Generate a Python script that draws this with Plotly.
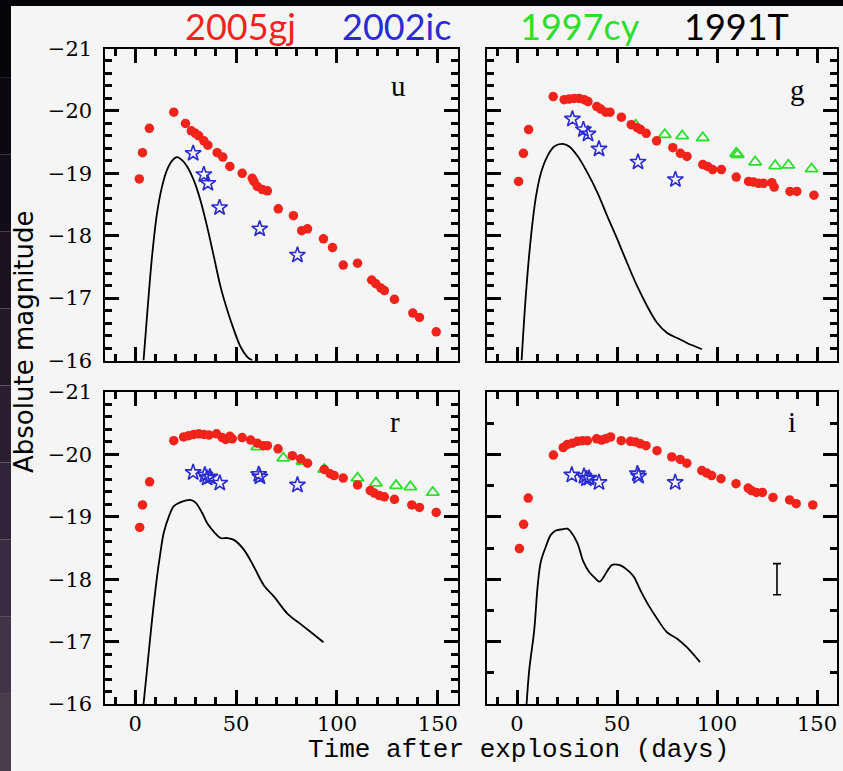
import plotly.graph_objects as go

W, H = 843, 771

# ---------------- data (days after explosion, absolute magnitude) ----------------
# u band
u_05gj_t = [2.0, 3.6, 7.0, 19.1, 24.9, 27.8, 29.8, 31.5, 34.0, 36.0, 40.6, 43.4, 46.9, 53.0, 58.0, 58.8,
            60.5, 63.0, 65.5, 70.9, 78.4, 82.5, 85.4, 93.3, 97.8, 103.1, 110.2, 117.2, 119.3, 121.8,
            123.5, 128.5, 137.6, 140.9, 149.2]
u_05gj_m = [-18.91, -19.33, -19.72, -19.98, -19.80, -19.68, -19.64, -19.60, -19.52, -19.45, -19.33, -19.26,
            -19.11, -19.00, -18.92, -18.87, -18.79, -18.74, -18.72, -18.43, -18.32, -18.08, -18.11, -17.95,
            -17.81, -17.53, -17.56, -17.29, -17.23, -17.16, -17.12, -16.98, -16.76, -16.69, -16.46]
u_02ic_t = [28.7, 34.0, 36.0, 41.8, 61.7, 80.4]
u_02ic_m = [-19.32, -18.98, -18.84, -18.45, -18.11, -17.69]
u_91T_t = [4.1, 5.8, 8.3, 10.8, 13.3, 15.7, 18.2, 20.7, 23.2, 25.7, 29.0, 32.3, 35.6, 39.0, 42.3, 45.6,
           48.9, 52.2, 55.5, 58.0]
u_91T_m = [-16.0, -16.70, -17.66, -18.36, -18.79, -19.05, -19.20, -19.26, -19.21, -19.11, -18.89, -18.57,
           -18.15, -17.66, -17.18, -16.81, -16.49, -16.22, -16.06, -16.0]

# g band
g_05gj_t = [0.8, 3.2, 5.8, 18.1, 23.6, 26.1, 28.6, 31.1, 33.6, 35.5, 39.9, 41.9, 44.4, 46.5, 52.2, 57.1,
            60.1, 61.8, 64.6, 69.8, 77.9, 81.7, 85.0, 92.9, 95.3, 97.8, 102.2, 109.6, 115.8, 118.3, 120.8,
            123.3, 127.4, 128.6, 136.5, 139.9, 148.5]
g_05gj_m = [-18.87, -19.32, -19.70, -20.23, -20.18, -20.19, -20.20, -20.20, -20.18, -20.15, -20.07, -20.03,
            -19.98, -19.98, -19.90, -19.78, -19.73, -19.70, -19.64, -19.52, -19.41, -19.32, -19.27, -19.14,
            -19.11, -19.06, -19.06, -18.94, -18.87, -18.86, -18.84, -18.84, -18.85, -18.78, -18.71, -18.71,
            -18.65]
g_02ic_t = [27.7, 33.2, 35.5, 41.0, 60.5, 79.2]
g_02ic_m = [-19.87, -19.70, -19.63, -19.39, -19.18, -18.90]
g_97cy_t = [59.3, 73.9, 82.6, 92.9, 109.6, 110.3, 119.1, 129.1, 135.7, 147.3]
g_97cy_m = [-19.77, -19.62, -19.60, -19.57, -19.32, -19.30, -19.18, -19.12, -19.13, -19.07]
g_91T_t = [2.3, 4.5, 7.0, 9.5, 12.0, 15.3, 18.6, 22.8, 26.1, 30.2, 35.2, 40.2, 45.2, 50.2, 55.1, 60.1,
           65.1, 70.1, 75.1, 80.1, 85.0, 92.5]
g_91T_m = [-16.0, -17.08, -17.99, -18.63, -19.01, -19.28, -19.43, -19.47, -19.43, -19.28, -19.01, -18.69,
           -18.31, -17.94, -17.56, -17.19, -16.87, -16.60, -16.44, -16.36, -16.28, -16.18]

# r band
r_05gj_t = [2.2, 3.6, 7.1, 19.1, 24.0, 26.5, 29.0, 31.5, 34.0, 36.5, 40.3, 43.1, 44.8, 46.9, 48.1, 53.0,
            57.2, 60.5, 63.5, 65.5, 70.8, 77.9, 82.0, 85.4, 93.7, 96.6, 98.6, 103.1, 110.2, 116.5, 118.5,
            121.0, 123.5, 128.5, 137.1, 140.9, 149.2]
r_05gj_m = [-18.83, -19.19, -19.56, -20.22, -20.28, -20.30, -20.32, -20.33, -20.32, -20.31, -20.33, -20.27,
            -20.24, -20.29, -20.25, -20.27, -20.23, -20.18, -20.14, -20.14, -20.09, -19.98, -19.93, -19.86,
            -19.76, -19.69, -19.66, -19.62, -19.51, -19.42, -19.38, -19.34, -19.32, -19.28, -19.19, -19.15,
            -19.07]
r_02ic_t = [28.7, 34.5, 35.6, 37.0, 41.9, 61.2, 61.8, 80.4]
r_02ic_m = [-19.71, -19.67, -19.62, -19.64, -19.54, -19.68, -19.64, -19.51]
r_97cy_t = [60.5, 73.4, 82.9, 93.7, 110.2, 119.3, 129.3, 136.4, 147.5]
r_97cy_m = [-20.12, -19.94, -19.89, -19.76, -19.62, -19.54, -19.50, -19.48, -19.39]
r_91T_t = [4.1, 5.8, 8.3, 10.8, 12.4, 14.1, 16.6, 19.1, 21.5, 24.9, 27.3, 29.8, 33.2, 35.6, 39.0, 42.3,
           45.6, 48.9, 53.9, 58.8, 63.8, 68.8, 75.4, 82.0, 87.9, 93.3]
r_91T_m = [-16.0, -16.54, -17.34, -18.04, -18.41, -18.74, -19.00, -19.17, -19.22, -19.26, -19.27, -19.23,
           -19.06, -18.90, -18.76, -18.66, -18.66, -18.63, -18.47, -18.20, -17.90, -17.72, -17.45, -17.28,
           -17.13, -16.99]

# i band
i_05gj_t = [1.2, 3.3, 5.6, 18.2, 23.1, 25.2, 27.7, 30.2, 32.7, 35.2, 39.8, 42.3, 44.3, 46.8, 52.1, 56.7,
            59.2, 61.7, 64.5, 70.0, 77.4, 81.6, 84.9, 92.4, 94.9, 97.3, 102.0, 109.5, 115.6, 117.2, 119.7,
            122.7, 128.0, 136.3, 139.6, 147.9]
i_05gj_m = [-18.49, -18.88, -19.30, -19.99, -20.11, -20.16, -20.18, -20.21, -20.22, -20.22, -20.25, -20.23,
            -20.25, -20.28, -20.22, -20.21, -20.20, -20.17, -20.14, -20.06, -19.96, -19.92, -19.86, -19.74,
            -19.70, -19.66, -19.61, -19.53, -19.46, -19.42, -19.39, -19.39, -19.31, -19.27, -19.21, -19.19]
i_02ic_t = [27.4, 33.5, 34.7, 36.0, 41.0, 60.2, 60.8, 79.1]
i_02ic_m = [-19.67, -19.65, -19.61, -19.62, -19.55, -19.69, -19.65, -19.55]
i_91T_t = [4.8, 6.1, 8.6, 10.3, 11.9, 14.4, 16.9, 19.4, 22.7, 25.2, 26.9, 30.2, 33.2, 36.0, 39.3, 41.3,
           43.4, 45.9, 47.6, 51.7, 55.1, 58.4, 61.7, 65.8, 70.0, 75.0, 79.9, 84.9, 91.5]
i_91T_m = [-16.0, -16.54, -17.18, -17.88, -18.28, -18.52, -18.71, -18.78, -18.80, -18.81, -18.76, -18.58,
           -18.28, -18.12, -18.01, -17.96, -18.04, -18.17, -18.23, -18.22, -18.15, -18.04, -17.82, -17.58,
           -17.37, -17.15, -17.05, -16.91, -16.67]

# typical error bar (i panel)
err_t = [130]
err_m = [-18.0]
err_size = [0.25]

band_labels = ["u", "g", "r", "i"]
sn_names = ["2005gj", "2002ic", "1997cy", "1991T"]

# ---------------- styling ----------------
RED = "#f2231b"
BLUE = "#2b2bd6"
GREEN = "#2ede2e"
BG = "#f5f5f5"

fig = go.Figure()

panels = [
    ("", u_05gj_t, u_05gj_m, u_02ic_t, u_02ic_m, None, None, u_91T_t, u_91T_m),
    ("2", g_05gj_t, g_05gj_m, g_02ic_t, g_02ic_m, g_97cy_t, g_97cy_m, g_91T_t, g_91T_m),
    ("3", r_05gj_t, r_05gj_m, r_02ic_t, r_02ic_m, r_97cy_t, r_97cy_m, r_91T_t, r_91T_m),
    ("4", i_05gj_t, i_05gj_m, i_02ic_t, i_02ic_m, None, None, i_91T_t, i_91T_m),
]

for k, (suf, rt, rm, bt, bm, gt, gm, kt, km) in enumerate(panels):
    xa, ya = "x" + suf, "y" + suf
    fig.add_trace(go.Scatter(x=kt, y=km, mode="lines", line=dict(color="black", width=1.8, shape="spline"),
                             xaxis=xa, yaxis=ya, showlegend=False, hoverinfo="skip"))
    if gt is not None:
        fig.add_trace(go.Scatter(x=gt, y=gm, mode="markers",
                                 marker=dict(symbol="triangle-up-open", size=11, color=GREEN,
                                             line=dict(width=1.8, color=GREEN)),
                                 xaxis=xa, yaxis=ya, showlegend=False))
    fig.add_trace(go.Scatter(x=rt, y=rm, mode="markers",
                             marker=dict(symbol="circle", size=9.5, color=RED, line=dict(width=0)),
                             xaxis=xa, yaxis=ya, showlegend=False))
    fig.add_trace(go.Scatter(x=bt, y=bm, mode="markers",
                             marker=dict(symbol="star-open", size=12, color=BLUE,
                                         line=dict(width=1.6, color=BLUE)),
                             xaxis=xa, yaxis=ya, showlegend=False))
    # invisible companion trace so the overlaid minor-tick axes of this panel are created
    fig.add_trace(go.Scatter(x=rt[:1], y=rm[:1], mode="markers", marker=dict(opacity=0, size=1),
                             xaxis="x" + str(k + 5), yaxis="y" + str(k + 5), showlegend=False,
                             hoverinfo="skip"))

fig.add_trace(go.Scatter(x=err_t, y=err_m, mode="markers", marker=dict(size=1, color="rgba(0,0,0,0)"),
                         error_y=dict(type="data", array=err_size, color="black", thickness=1.6, width=4),
                         xaxis="x4", yaxis="y4", showlegend=False, hoverinfo="skip"))


def px_x(p):
    return p / W


def px_y(p):
    return 1 - p / H


left_dom = [px_x(105), px_x(458)]
right_dom = [px_x(487), px_x(837)]
top_dom = [px_y(360.5), px_y(48.5)]
bot_dom = [px_y(704), px_y(392)]

X_RANGE = [-15, 160]
Y_RANGE = [-16, -21]
tick_font = dict(family="DejaVu Serif", size=21, color="black")


def xaxis(domain, anchor, labels):
    return dict(domain=domain, anchor=anchor, range=X_RANGE, tickmode="linear", tick0=0, dtick=50,
                showticklabels=labels, ticks="inside", ticklen=14, tickwidth=3, tickcolor="black",
                mirror="ticks", showline=True, linecolor="black", linewidth=2, automargin=False,
                showgrid=False, zeroline=False, tickfont=tick_font)


def yaxis(domain, anchor, labels):
    return dict(domain=domain, anchor=anchor, range=Y_RANGE, tickmode="linear", tick0=0, dtick=1,
                ticksuffix=" ",
                showticklabels=labels, ticks="inside", ticklen=14, tickwidth=3, tickcolor="black",
                mirror="ticks", showline=True, linecolor="black", linewidth=2, automargin=False,
                showgrid=False, zeroline=False, tickfont=tick_font)


def xminor(base, anchor):
    return dict(overlaying=base, anchor=anchor, range=X_RANGE, tickmode="linear", tick0=0, dtick=10,
                showticklabels=False, ticks="inside", ticklen=7, tickwidth=3, tickcolor="black",
                mirror="ticks", showline=True, linecolor="black", linewidth=2, automargin=False,
                showgrid=False, zeroline=False)


def yminor(base, anchor, step):
    return dict(overlaying=base, anchor=anchor, range=Y_RANGE, tickmode="linear", tick0=0, dtick=step,
                showticklabels=False, ticks="inside", ticklen=7, tickwidth=3, tickcolor="black",
                mirror="ticks", showline=True, linecolor="black", linewidth=2, automargin=False,
                showgrid=False, zeroline=False)


annotations = []
title_pos = [(240, RED), (396, BLUE), (580, GREEN), (736, "black")]
for name, (cx, col) in zip(sn_names, title_pos):
    annotations.append(dict(text=name, x=px_x(cx), y=px_y(26), xref="paper", yref="paper",
                            showarrow=False, font=dict(family="Lato", size=36, color=col),
                            xanchor="center", yanchor="middle"))

band_pos = [(398, 86), (797, 90), (395, 422), (792, 422)]
for lab, (bx, by) in zip(band_labels, band_pos):
    annotations.append(dict(text=lab, x=px_x(bx), y=px_y(by), xref="paper", yref="paper",
                            showarrow=False, font=dict(family="Liberation Serif", size=29, color="black"),
                            xanchor="center", yanchor="middle"))

annotations.append(dict(text="Time after explosion (days)", x=px_x(518), y=px_y(750), xref="paper",
                        yref="paper", showarrow=False,
                        font=dict(family="Liberation Mono", size=26, color="black"),
                        xanchor="center", yanchor="middle"))
annotations.append(dict(text="Absolute magnitude", x=px_x(24), y=px_y(342), xref="paper", yref="paper",
                        showarrow=False, textangle=-90,
                        font=dict(family="DejaVu Sans", size=26, color="black"),
                        xanchor="center", yanchor="middle"))

# dark slide frame (left gradient strip and top strip)
shapes = []
strip_cols = ["#050509", "#0b0810", "#120c18", "#1a1220", "#221828", "#2a1e30",
              "#322438", "#3a2c40", "#423446", "#4a3c4c"]
n = len(strip_cols)
for k, c in enumerate(strip_cols):
    shapes.append(dict(type="rect", xref="paper", yref="paper", x0=0, x1=px_x(11),
                       y0=1 - (k + 1) / n, y1=1 - k / n, fillcolor=c, line=dict(width=0), layer="above"))
shapes.append(dict(type="rect", xref="paper", yref="paper", x0=0, x1=1, y0=px_y(6), y1=1,
                   fillcolor="#050509", line=dict(width=0), layer="above"))

fig.update_layout(
    template="none",
    width=W, height=H, margin=dict(l=0, r=0, t=0, b=0, pad=0, autoexpand=False),
    paper_bgcolor=BG, plot_bgcolor=BG, showlegend=False,
    xaxis=xaxis(left_dom, "y", False),
    yaxis=yaxis(top_dom, "x", True),
    xaxis2=xaxis(right_dom, "y2", False),
    yaxis2=yaxis(top_dom, "x2", False),
    xaxis3=xaxis(left_dom, "y3", True),
    yaxis3=yaxis(bot_dom, "x3", True),
    xaxis4=xaxis(right_dom, "y4", True),
    yaxis4=yaxis(bot_dom, "x4", False),
    xaxis5=xminor("x", "y5"), yaxis5=yminor("y", "x5", 0.2),
    xaxis6=xminor("x2", "y6"), yaxis6=yminor("y2", "x6", 0.2),
    xaxis7=xminor("x3", "y7"), yaxis7=yminor("y3", "x7", 0.2),
    xaxis8=xminor("x4", "y8"), yaxis8=yminor("y4", "x8", 0.5),
    annotations=annotations, shapes=shapes,
)

fig.write_html("out.html")
